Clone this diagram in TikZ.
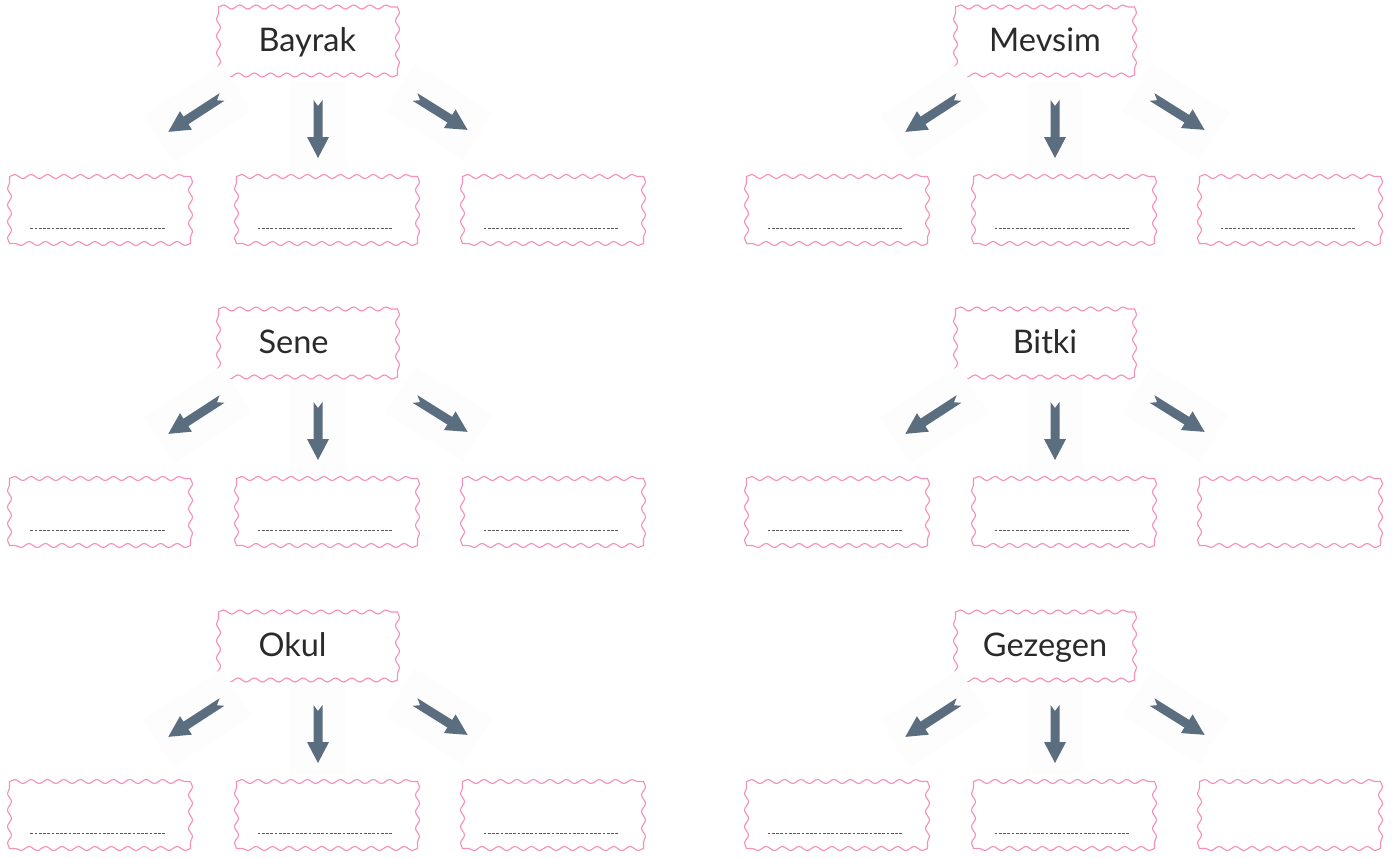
\documentclass[tikz,border=0pt]{standalone}
\usepackage{fontspec}
\setmainfont{Lato}
\usetikzlibrary{decorations.pathmorphing}

\definecolor{wavepink}{HTML}{F490BA}
\definecolor{arrowslate}{HTML}{5A6E80}
\definecolor{arrowshade}{HTML}{FDFDFD}
\definecolor{wordgrey}{HTML}{2A2A2A}

\tikzset{
  wavy/.style={draw=wavepink, line width=0.65pt, line cap=round, decorate,
    decoration={snake, segment length=#1, amplitude=0.4mm}},
  wavy/.default=3.25mm,
  topbox/.style n args={3}{minimum width=35.8mm, minimum height=13.6mm,
    text width=#1, inner xsep=#2, inner ysep=0pt, outer sep=0pt, align=#3,
    text height=12pt, text depth=0pt,
    text=wordgrey, font=\fontsize{18.5}{20}\selectfont},
  ansbox/.style={minimum width=36.2mm, minimum height=13.4mm,
    inner sep=0pt, outer sep=0pt},
  fillline/.style={black!65, line width=0.5pt, dash pattern=on 0.55mm off 0.3mm},
  pics/blockarrow/.style={code={
    \fill[arrowshade] (-18,-28) rectangle (#1+12,28);
    \fill[arrowslate] (0,4.5) -- (#1-21,4.5) -- (#1-21,11) -- (#1,0)
      -- (#1-21,-11) -- (#1-21,-4.5) -- (0,-4.5) -- (6,0) -- cycle;
  }}
}

% wavy frame round a named node, one side at a time
\newcommand\waveframe[3]{%
  \draw[wavy=#2] (#1.north west) -- (#1.north east);
  \draw[wavy=#3] (#1.north east) -- (#1.south east);
  \draw[wavy=#2] (#1.south east) -- (#1.south west);
  \draw[wavy=#3] (#1.south west) -- (#1.north west);}

\begin{document}
\begin{tikzpicture}[x=0.2mm,y=-0.2mm]
  \useasboundingbox (0,0) rectangle (1399,857);

  % six word groups: word / centre / text width / xsep / align / last box lined
  \foreach \word/\gx/\gy/\tw/\xs/\al/\full [count=\g] in {
      Bayrak/308/41/19.8mm/8mm/left/1,
      Mevsim/1045/41/30mm/2.9mm/center/1,
      Sene/308/343/19.8mm/8mm/left/1,
      Bitki/1045/343/30mm/2.9mm/center/0,
      Okul/308/646/19.8mm/8mm/left/1,
      Gezegen/1045/646/30mm/2.9mm/center/0}{
    \begin{scope}[shift={(\gx,\gy)}]
      \node[topbox={\tw}{\xs}{\al}] (word\g) at (0,0) {\word};
      \waveframe{word\g}{3.25mm}{3.38mm}

      % arrows
      \pic[rotate=213] at (-86,56) {blockarrow=64};
      \pic[rotate=270] at (10,59) {blockarrow=58};
      \pic[rotate=328] at (107,56) {blockarrow=62};

      % answer boxes
      \foreach \k/\dx in {1/-208,2/19,3/245}{
        \node[ansbox] (ans\g-\k) at (\dx,169) {};
        \waveframe{ans\g-\k}{3.29mm}{3.33mm}
        \pgfmathtruncatemacro\lined{(\full==1)||(\k<3)}
        \ifnum\lined=1
          \draw[fillline] ([shift={(21,-15)}]ans\g-\k.south west)
            -- ([shift={(-26,-15)}]ans\g-\k.south east);
        \fi
      }
    \end{scope}
  }
\end{tikzpicture}
\end{document}
